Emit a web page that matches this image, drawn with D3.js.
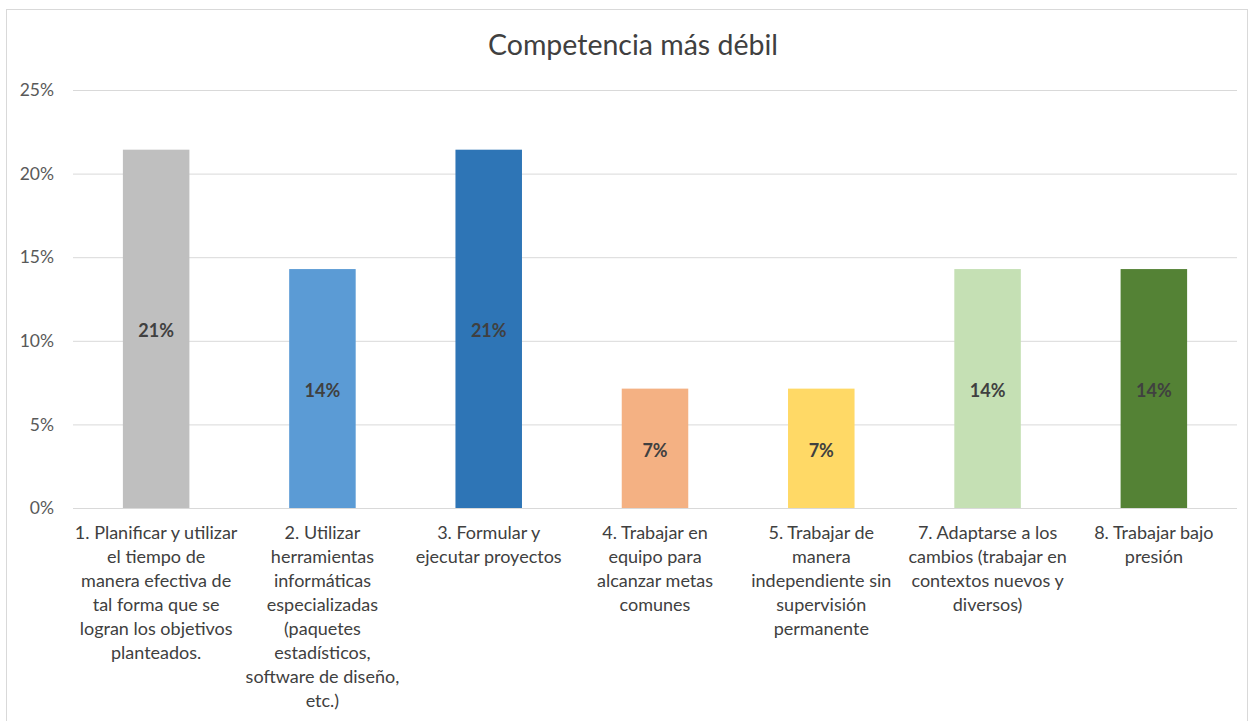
<!DOCTYPE html>
<html>
<head>
<meta charset="utf-8">
<script src="https://cdn.jsdelivr.net/npm/d3@7"></script>
<style>
  body { margin: 0; background: #fff; }
  svg { font-family: Lato, "Open Sans", sans-serif; }
  .grid line { stroke: #d9d9d9; }
  .grid path { display: none; }
</style>
</head>
<body>
<div id="chart"></div>
<script>
// Chart data
var chartTitle = "Competencia más débil";
var categories = [
  ["1. Planificar y utilizar", "el tiempo de", "manera efectiva de", "tal forma que se", "logran los objetivos", "planteados."],
  ["2. Utilizar", "herramientas", "informáticas", "especializadas", "(paquetes", "estadísticos,", "software de diseño,", "etc.)"],
  ["3. Formular y", "ejecutar proyectos"],
  ["4. Trabajar en", "equipo para", "alcanzar metas", "comunes"],
  ["5. Trabajar de", "manera", "independiente sin", "supervisión", "permanente"],
  ["7. Adaptarse a los", "cambios (trabajar en", "contextos nuevos y", "diversos)"],
  ["8. Trabajar bajo", "presión"]
];
var values = [0.2143, 0.1429, 0.2143, 0.0714, 0.0714, 0.1429, 0.1429];
var barColors = ["#bfbfbf", "#5b9bd5", "#2e75b6", "#f4b183", "#ffd966", "#c5e0b4", "#548235"];
var yTicks = [0, 0.05, 0.10, 0.15, 0.20, 0.25];

var width = 1251, height = 721;
var margin = {top: 90, right: 14, bottom: 213, left: 73};
var plotW = width - margin.left - margin.right;
var plotH = height - margin.top - margin.bottom;

var svg = d3.select("#chart").append("svg")
    .attr("width", width)
    .attr("height", height);

//Chart outline
svg.append("rect")
    .attr("x", 6.5).attr("y", 9.5)
    .attr("width", width - 10).attr("height", height)
    .attr("fill", "#fff")
    .attr("stroke", "#d9d9d9");

//Title
svg.append("text")
    .attr("x", 633)
    .attr("y", 55)
    .attr("text-anchor", "middle")
    .attr("font-size", "28.5px")
    .attr("fill", "#404040")
    .text(chartTitle);

var g = svg.append("g")
    .attr("transform", "translate(" + margin.left + "," + margin.top + ")");

var x = d3.scaleBand()
    .domain(d3.range(values.length))
    .range([0, plotW])
    .paddingInner(0.6)
    .paddingOuter(0.3);

var y = d3.scaleLinear().domain([0, 0.25]).range([plotH, 0]);

//Horizontal grid
g.append("g")
    .attr("class", "grid")
    .call(d3.axisLeft(y).tickValues(yTicks).tickSize(-plotW).tickFormat(""));

//Y axis labels
g.append("g")
    .selectAll("text")
    .data(yTicks)
    .enter().append("text")
      .attr("x", -19)
      .attr("y", function(d) { return y(d); })
      .attr("dy", "0.35em")
      .attr("text-anchor", "end")
      .attr("font-size", "17.5px")
      .attr("fill", "#595959")
      .text(d3.format(".0%"));

//Bars
g.selectAll(".bar")
    .data(values)
    .enter().append("rect")
      .attr("class", "bar")
      .attr("x", function(d, i) { return x(i); })
      .attr("y", function(d) { return y(d); })
      .attr("width", x.bandwidth())
      .attr("height", function(d) { return plotH - y(d); })
      .attr("fill", function(d, i) { return barColors[i]; });

//Baseline
g.append("line")
    .attr("x1", 0).attr("x2", plotW)
    .attr("y1", plotH + 0.5).attr("y2", plotH + 0.5)
    .attr("stroke", "#d9d9d9");

//Data labels
g.selectAll(".val")
    .data(values)
    .enter().append("text")
      .attr("class", "val")
      .attr("x", function(d, i) { return x(i) + x.bandwidth() / 2; })
      .attr("y", function(d) { return (y(d) + plotH) / 2 + 2; })
      .attr("dy", "0.35em")
      .attr("text-anchor", "middle")
      .attr("font-size", "18px")
      .attr("font-weight", "bold")
      .attr("fill", "#404040")
      .text(d3.format(".0%"));

//Category labels
var cat = g.selectAll(".cat")
    .data(categories)
    .enter().append("text")
      .attr("class", "cat")
      .attr("text-anchor", "middle")
      .attr("font-size", "18px")
      .attr("fill", "#404040")
      .attr("transform", function(d, i) {
        return "translate(" + (x(i) + x.bandwidth() / 2) + "," + (plotH + 31) + ")";
      });

cat.selectAll("tspan")
    .data(function(d) { return d; })
    .enter().append("tspan")
      .attr("x", 0)
      .attr("y", function(d, i) { return i * 24; })
      .text(function(d) { return d; });
</script>
</body>
</html>
